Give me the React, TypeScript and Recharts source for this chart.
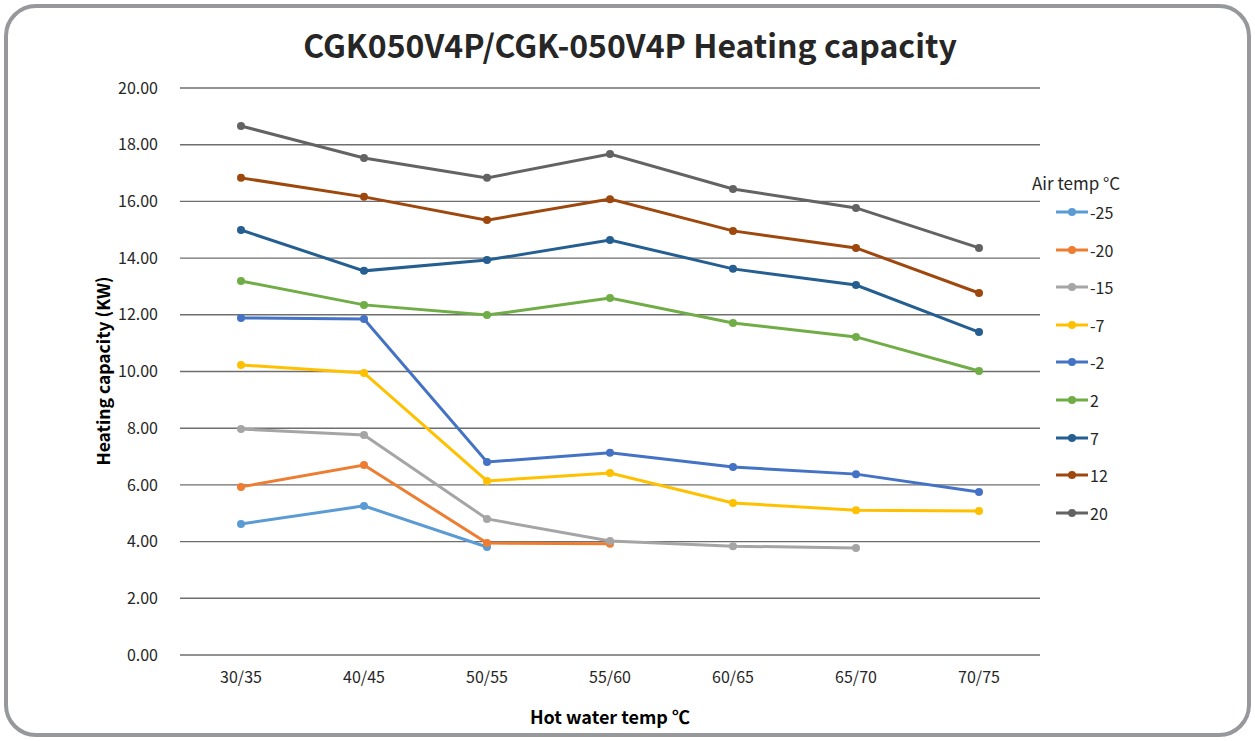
import React from "react";
import { LineChart, Line, XAxis, YAxis, CartesianGrid } from "recharts";

const categories = ["30/35", "40/45", "50/55", "55/60", "60/65", "65/70", "70/75"];
const yTicks = [0, 2, 4, 6, 8, 10, 12, 14, 16, 18, 20];

const s_m25 = [4.62, 5.26, 3.81, null, null, null, null];
const s_m20 = [5.93, 6.7, 3.95, 3.92, null, null, null];
const s_m15 = [7.97, 7.76, 4.8, 4.02, 3.84, 3.77, null];
const s_m7 = [10.23, 9.95, 6.14, 6.42, 5.36, 5.11, 5.08];
const s_m2 = [11.89, 11.85, 6.81, 7.13, 6.63, 6.38, 5.75];
const s_2 = [13.19, 12.35, 11.99, 12.59, 11.71, 11.22, 10.02];
const s_7 = [14.99, 13.55, 13.93, 14.64, 13.62, 13.05, 11.39];
const s_12 = [16.83, 16.16, 15.34, 16.08, 14.96, 14.36, 12.77];
const s_20 = [18.66, 17.53, 16.83, 17.67, 16.44, 15.77, 14.36];

const seriesNames = ["-25", "-20", "-15", "-7", "-2", "2", "7", "12", "20"];
const seriesValues = [s_m25, s_m20, s_m15, s_m7, s_m2, s_2, s_7, s_12, s_20];
const seriesColors = ["#5B9BD5", "#ED7D31", "#A5A5A5", "#FFC000", "#4472C4", "#70AD47", "#255E91", "#9E480E", "#636363"];

const data = categories.map((c, i) => {
  const row: Record<string, any> = { cat: c };
  seriesNames.forEach((n, k) => {
    row["s" + k] = seriesValues[k][i];
  });
  return row;
});

const FONT = "'Noto Sans CJK SC', 'Noto Sans', sans-serif";

const LegendBox = () => (
  <div style={{ position: "absolute", left: 1032, top: 170, fontFamily: FONT, color: "#262626" }}>
    <div style={{ fontSize: 17, height: 26, lineHeight: "26px" }}>Air temp °C</div>
    {seriesNames.map((n, k) => (
      <div
        key={n}
        style={{ position: "absolute", left: 0, top: 42 + k * 37.6 - 19, display: "flex", alignItems: "center", height: 38, whiteSpace: "nowrap" }}
      >
        <svg width={34} height={12} style={{ marginLeft: 23 }}>
          <line x1={1} y1={6} x2={33} y2={6} stroke={seriesColors[k]} strokeWidth={3} />
          <circle cx={17} cy={6} r={4} fill={seriesColors[k]} />
        </svg>
        <span style={{ fontSize: 16, marginLeft: 1 }}>{n}</span>
      </div>
    ))}
  </div>
);

export default function App() {
  return (
    <div style={{ position: "absolute", left: 0, top: 0, width: 1255, height: 741, background: "#fff" }}>
      <div
        style={{
          position: "absolute",
          left: 4,
          top: 4,
          width: 1239,
          height: 725,
          border: "4px solid #97989c",
          borderRadius: 32,
        }}
      />
      <div
        style={{
          position: "absolute",
          left: 0,
          width: 1260,
          top: 22,
          textAlign: "center",
          fontFamily: FONT,
          fontWeight: 700,
          fontSize: 32,
          color: "#262626",
          lineHeight: "44px",
        }}
      >
        CGK050V4P/CGK-050V4P Heating capacity
      </div>
      <div
        style={{
          position: "absolute",
          left: 0,
          width: 1220,
          top: 703,
          textAlign: "center",
          fontFamily: FONT,
          fontWeight: 700,
          fontSize: 18,
          color: "#000",
          lineHeight: "26px",
        }}
      >
        Hot water temp ℃
      </div>
      <div
        style={{
          position: "absolute",
          left: 103 - 150,
          top: 371 - 13,
          width: 300,
          height: 26,
          lineHeight: "26px",
          textAlign: "center",
          transform: "rotate(-90deg)",
          fontFamily: FONT,
          fontWeight: 700,
          fontSize: 17.5,
          color: "#000",
        }}
      >
        Heating capacity (KW)
      </div>
      <div style={{ position: "absolute", left: 0, top: 0 }}>
        <LineChart width={1255} height={741} data={data} margin={{ top: 88, right: 215, bottom: 56, left: 0 }}>
          <CartesianGrid vertical={false} stroke="#6e6e6e" strokeWidth={1.4} />
          <XAxis
            dataKey="cat"
            axisLine={false}
            tickLine={false}
            height={30}
            tickMargin={11}
            padding={{ left: 61, right: 61 }}
            tick={{ fill: "#262626", fontSize: 16, fontFamily: FONT }}
          />
          <YAxis
            domain={[0, 20]}
            ticks={yTicks}
            width={180}
            axisLine={false}
            tickLine={false}
            tickMargin={16}
            tickFormatter={(v: number) => v.toFixed(2)}
            tick={{ fill: "#262626", fontSize: 16, fontFamily: FONT }}
          />
          {seriesNames.map((n, k) => (
            <Line
              key={n}
              dataKey={"s" + k}
              name={n}
              stroke={seriesColors[k]}
              strokeWidth={3}
              dot={{ r: 4, fill: seriesColors[k], stroke: seriesColors[k], strokeWidth: 0 }}
              activeDot={false}
              connectNulls={false}
              isAnimationActive={false}
            />
          ))}
        </LineChart>
      </div>
      <LegendBox />
    </div>
  );
}
